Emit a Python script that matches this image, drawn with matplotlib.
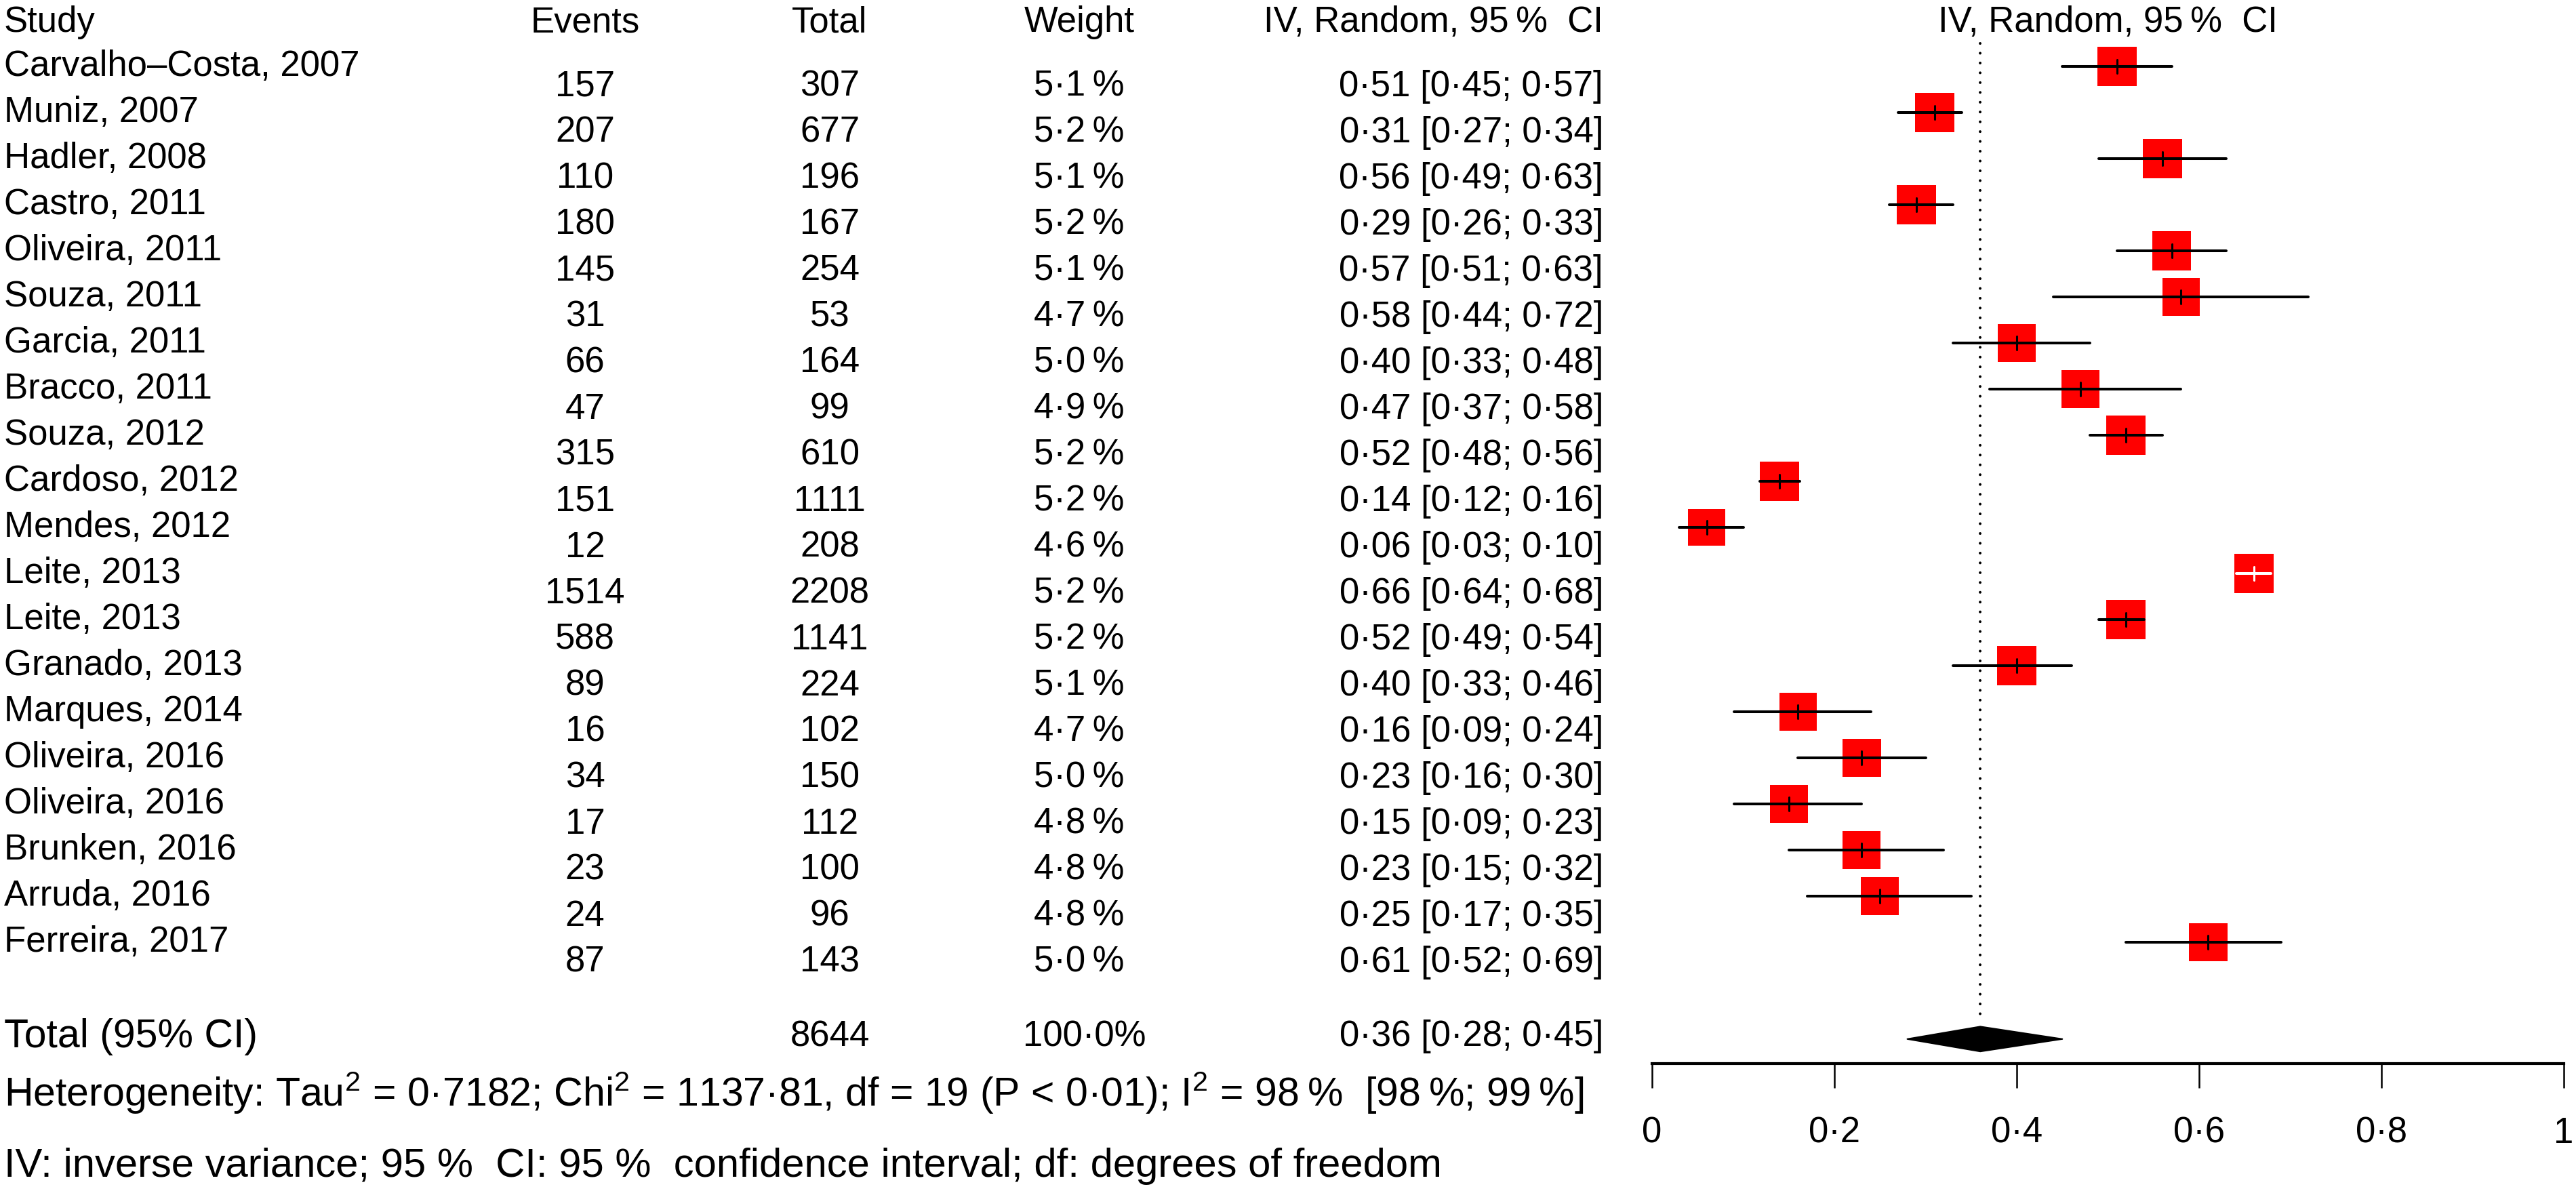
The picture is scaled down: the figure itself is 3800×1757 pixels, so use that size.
import numpy as np
import matplotlib
matplotlib.use('Agg')
import matplotlib.pyplot as plt
import matplotlib.transforms as mtransforms
from matplotlib.patches import Rectangle, Polygon
from matplotlib.ticker import FuncFormatter

plt.rcParams['font.family'] = ['Liberation Sans', 'DejaVu Sans']
plt.rcParams['mathtext.fontset'] = 'custom'
plt.rcParams['mathtext.rm'] = 'Liberation Sans'
plt.rcParams['mathtext.it'] = 'Liberation Sans'

# data
studies = ['Carvalho\u2013Costa, 2007', 'Muniz, 2007', 'Hadler, 2008', 'Castro, 2011',
           'Oliveira, 2011', 'Souza, 2011', 'Garcia, 2011', 'Bracco, 2011',
           'Souza, 2012', 'Cardoso, 2012', 'Mendes, 2012', 'Leite, 2013',
           'Leite, 2013', 'Granado, 2013', 'Marques, 2014', 'Oliveira, 2016',
           'Oliveira, 2016', 'Brunken, 2016', 'Arruda, 2016', 'Ferreira, 2017']
events = [157, 207, 110, 180, 145, 31, 66, 47, 315, 151, 12, 1514, 588, 89, 16, 34, 17, 23, 24, 87]
totals = [307, 677, 196, 167, 254, 53, 164, 99, 610, 1111, 208, 2208, 1141, 224, 102, 150, 112, 100, 96, 143]
weights = [5.1, 5.2, 5.1, 5.2, 5.1, 4.7, 5.0, 4.9, 5.2, 5.2, 4.6, 5.2, 5.2, 5.1, 4.7, 5.0, 4.8, 4.8, 4.8, 5.0]
est = [0.51, 0.31, 0.56, 0.29, 0.57, 0.58, 0.40, 0.47, 0.52, 0.14, 0.06, 0.66, 0.52, 0.40, 0.16, 0.23, 0.15, 0.23, 0.25, 0.61]
lower = [0.45, 0.27, 0.49, 0.26, 0.51, 0.44, 0.33, 0.37, 0.48, 0.118, 0.03, 0.641, 0.49, 0.33, 0.09, 0.16, 0.09, 0.15, 0.17, 0.52]
upper = [0.57, 0.34, 0.63, 0.33, 0.63, 0.72, 0.48, 0.58, 0.56, 0.162, 0.10, 0.679, 0.54, 0.46, 0.24, 0.30, 0.23, 0.32, 0.35, 0.69]
total_n = 8644
total_w = 100.0
pooled = [0.36, 0.28, 0.45]
xticks = [0, 0.2, 0.4, 0.6, 0.8, 1]

W, H = 3800, 1757
fig = plt.figure(figsize=(W / 100, H / 100), dpi=100)

# forest panel, rows are data units (68 px per row, first row at 98 px)
x0, x1 = 2437, 3782
row_px, top_px = 68.0, 98.0
ax = fig.add_axes([x0 / W, 0, (x1 - x0) / W, 1])
ax.set_xlim(0, 1)
ax.set_ylim((H - top_px) / row_px, -top_px / row_px)
ax.patch.set_visible(False)
for s in ['top', 'left', 'right']:
    ax.spines[s].set_visible(False)
y_total = 21.1
y_axis = 21.63
ax.spines['bottom'].set_position(('data', y_axis))
ax.spines['bottom'].set_linewidth(3)
ax.set_yticks([])
ax.set_xticks(xticks)
ax.xaxis.set_major_formatter(FuncFormatter(lambda v, p: ('%g' % v).replace('.', '\u00b7')))
ax.tick_params(axis='x', length=26, width=1.8, pad=30, labelsize=38)

px_per_x = (x1 - x0)
n = len(studies)
rows = np.arange(n)
wmax = max(weights)
for i in range(n):
    side_px = 58 * np.sqrt(weights[i] / wmax)
    wx = side_px / px_per_x
    hy = side_px / row_px
    ax.add_patch(Rectangle((est[i] - wx / 2, rows[i] - hy / 2), wx, hy,
                           facecolor='#ff0000', edgecolor='none', zorder=2))
    # CI drawn white when it lies inside the square
    col = 'white' if (upper[i] - lower[i]) < wx else 'black'
    ax.plot([lower[i], upper[i]], [rows[i], rows[i]], color=col, lw=2.9,
            solid_capstyle='round', zorder=3)
    ax.plot([est[i], est[i]], [rows[i] - 0.14, rows[i] + 0.14], color=col, lw=2.2,
            solid_capstyle='round', zorder=3)

# pooled line and diamond
ax.plot([pooled[0], pooled[0]], [-0.5, y_total - 0.36], color='black', lw=2.9,
        linestyle=(0, (0.01, 3.58)), dash_capstyle='round')
dh = 0.27
ax.add_patch(Polygon([(pooled[1], y_total), (pooled[0], y_total - dh),
                      (pooled[2], y_total), (pooled[0], y_total + dh)],
                     closed=True, facecolor='black', edgecolor='black', lw=1.5,
                     joinstyle='round', zorder=3))

# text columns
tr = mtransforms.blended_transform_factory(fig.transFigure, ax.transData)
fs = 38
fs_foot = 42.5
def fmt(v, d=2):
    return ('%.*f' % (d, v)).replace('.', '\u00b7')

y_head = (33 - top_px) / row_px
off = 0.44
fig.text(6 / W, y_head, 'Study', transform=tr, fontsize=fs, va='center', ha='left')
fig.text(863 / W, y_head, 'Events', transform=tr, fontsize=fs, va='center', ha='center')
fig.text(1224 / W, y_head, 'Total', transform=tr, fontsize=fs, va='center', ha='center')
fig.text(1592 / W, y_head, 'Weight', transform=tr, fontsize=fs, va='center', ha='center')
fig.text(2365 / W, y_head, 'IV, Random, 95\u2009%  CI', transform=tr, fontsize=fs, va='center', ha='right')
fig.text((x0 + x1) / 2 / W, y_head, 'IV, Random, 95\u2009%  CI', transform=tr, fontsize=fs,
         va='center', ha='center')

for i in range(n):
    fig.text(6 / W, rows[i], studies[i], transform=tr, fontsize=fs, va='center', ha='left')
    fig.text(863 / W, rows[i] + off, str(events[i]), transform=tr, fontsize=fs, va='center', ha='center')
    fig.text(1224 / W, rows[i] + off, str(totals[i]), transform=tr, fontsize=fs, va='center', ha='center')
    fig.text(1592 / W, rows[i] + off, fmt(weights[i], 1) + '\u2009%', transform=tr, fontsize=fs,
             va='center', ha='center')
    fig.text(2365 / W, rows[i] + off,
             '%s [%s; %s]' % (fmt(est[i]), fmt(lower[i]), fmt(upper[i])),
             transform=tr, fontsize=fs, va='center', ha='right')

fig.text(6 / W, y_total - 0.05, 'Total (95% CI)', transform=tr, fontsize=fs_foot, va='center', ha='left')
fig.text(1224 / W, y_total - 0.05, str(total_n), transform=tr, fontsize=fs, va='center', ha='center')
fig.text(1600 / W, y_total - 0.05, fmt(total_w, 1) + '%', transform=tr, fontsize=fs,
         va='center', ha='center')
fig.text(2365 / W, y_total - 0.05, '%s [%s; %s]' % (fmt(pooled[0]), fmt(pooled[1]), fmt(pooled[2])),
         transform=tr, fontsize=fs, va='center', ha='right')

het = ('Heterogeneity: Tau$^2$ = 0\u00b77182; Chi$^2$ = 1137\u00b781, df = 19 (P < 0\u00b701); '
       'I$^2$ = 98\u2009%  [98\u2009%; 99\u2009%]')
fig.text(6 / W, (1612 - top_px) / row_px, het, transform=tr, fontsize=fs_foot, va='center', ha='left')
fig.text(6 / W, (1721 - top_px) / row_px,
         'IV: inverse variance; 95 %  CI: 95 %  confidence interval; df: degrees of freedom',
         transform=tr, fontsize=43, va='center', ha='left')

fig.savefig('out.png', dpi=100)
